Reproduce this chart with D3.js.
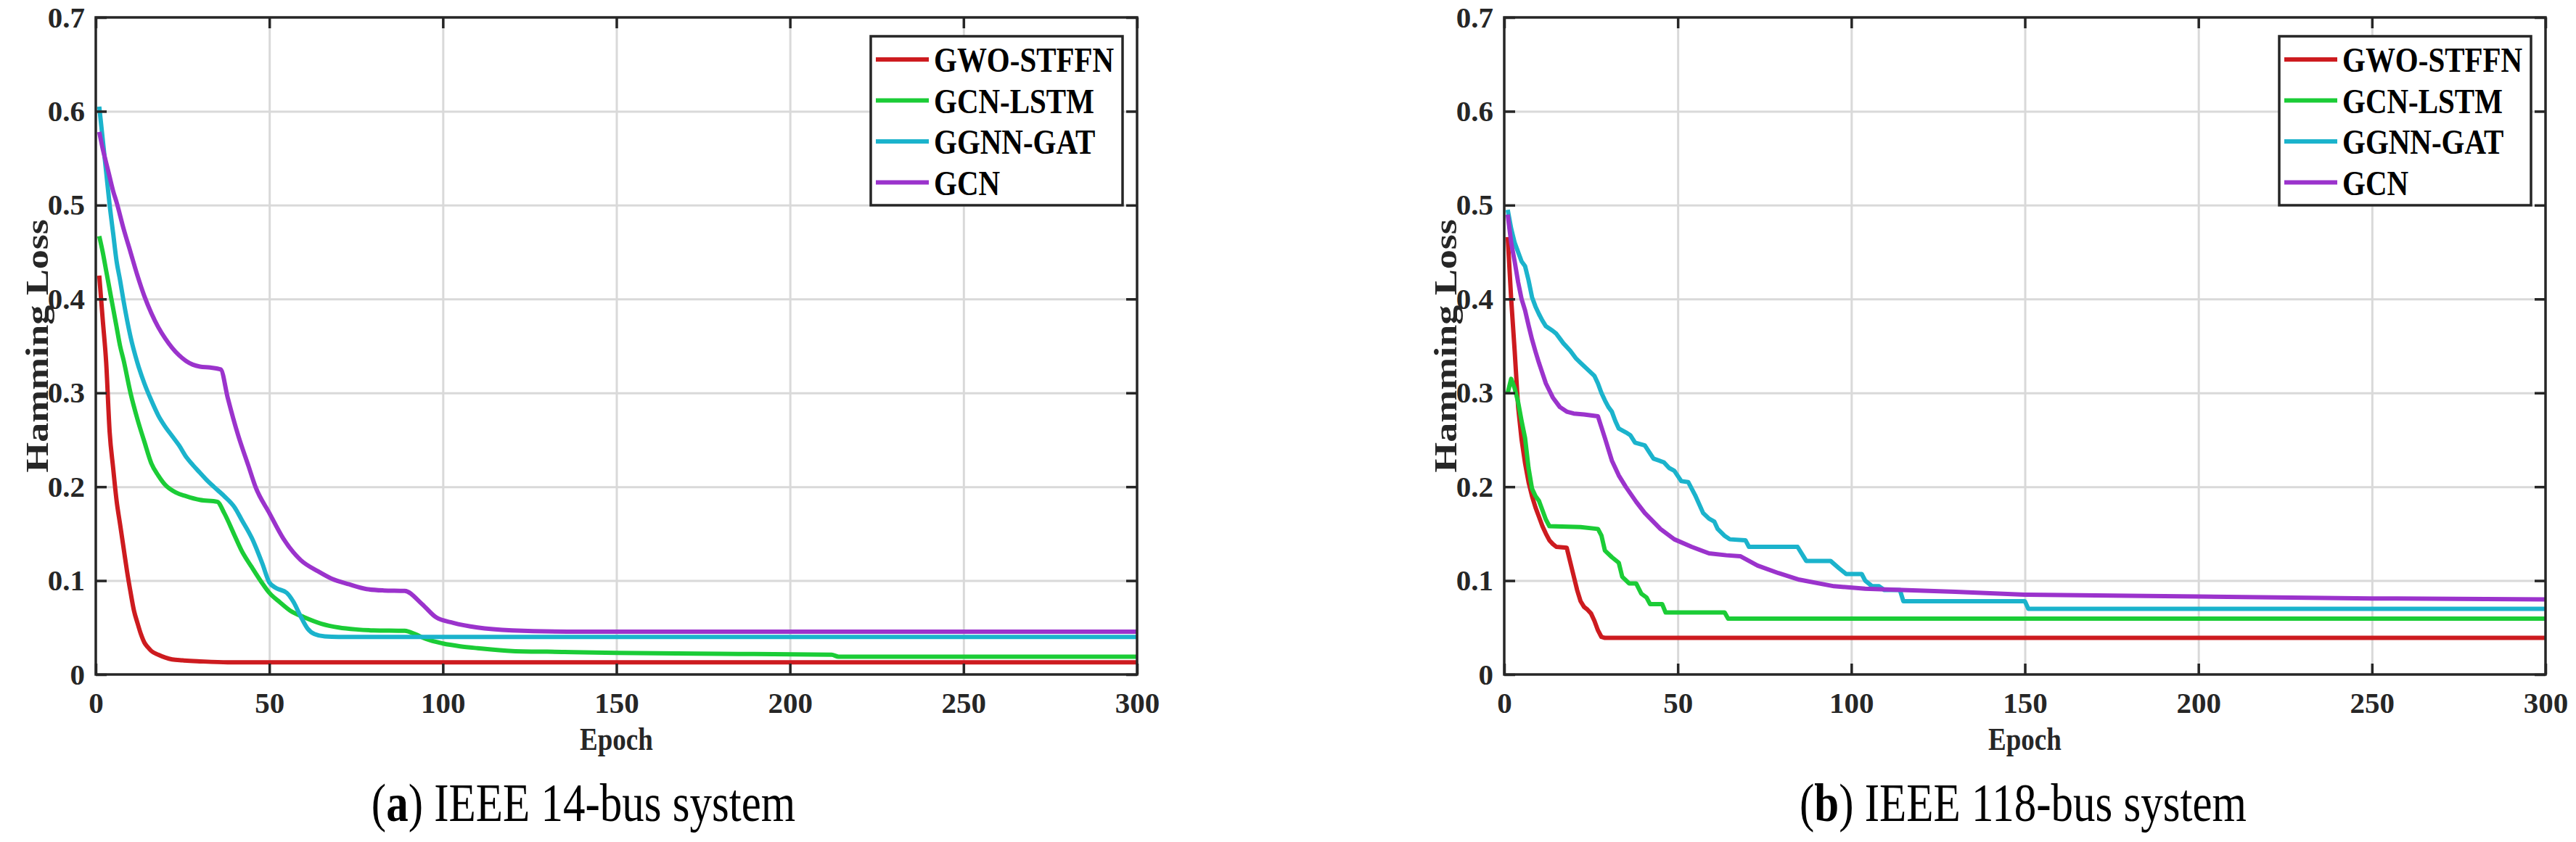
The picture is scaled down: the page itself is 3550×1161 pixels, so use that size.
<!DOCTYPE html>
<html>
<head>
<meta charset="utf-8">
<script src="https://cdn.jsdelivr.net/npm/d3@7"></script>
<style>
  body { margin: 0; background: #fff; }
  text { font-family: "Liberation Serif", "Times New Roman", serif; }
</style>
</head>
<body>
<div id="chart"></div>
<script>
// ---- data: [epoch, hamming loss] ----
var seriesNames = ["GWO-STFFN", "GCN-LSTM", "GGNN-GAT", "GCN"];
var seriesColors = ["#cd1b1f", "#1bcc36", "#1bb3cc", "#9b33cc"];
var xTicks = [0, 50, 100, 150, 200, 250, 300];
var yTicks = [0, 0.1, 0.2, 0.3, 0.4, 0.5, 0.6, 0.7];

// (a) IEEE 14-bus
var gwo14 = [[1,0.425],[2,0.378],[3,0.332],[4,0.258],[5,0.22],[6,0.185],[7,0.16],[8,0.135],[9,0.11],[10,0.088],
  [11,0.068],[12,0.055],[13,0.043],[14,0.034],[15,0.029],[16,0.025],[18,0.021],[20,0.018],[22,0.016],[25,0.015],
  [30,0.014],[38,0.013],[300,0.013]];
var lstm14 = [[1,0.467],[2,0.45],[3,0.43],[4,0.41],[5,0.39],[6,0.37],[7,0.35],[8,0.335],[10,0.30],[12,0.272],
  [14,0.248],[16,0.225],[18,0.212],[20,0.202],[23,0.194],[26,0.19],[30,0.186],[35,0.184],[37,0.172],[40,0.148],
  [42,0.132],[45,0.114],[48,0.097],[50,0.087],[53,0.077],[56,0.068],[60,0.061],[65,0.054],[70,0.05],[75,0.048],
  [80,0.047],[89,0.0465],[92,0.043],[95,0.038],[100,0.033],[105,0.03],[110,0.028],[120,0.025],[135,0.024],
  [150,0.023],[180,0.022],[212,0.021],[214,0.019],[300,0.019]];
var gat14 = [[1,0.605],[2,0.57],[3,0.535],[4,0.5],[5,0.47],[6,0.44],[7,0.42],[8,0.398],[10,0.36],[12,0.332],
  [14,0.31],[16,0.292],[18,0.276],[20,0.264],[22,0.254],[24,0.244],[26,0.232],[28,0.223],[30,0.215],[32,0.207],
  [34,0.2],[37,0.19],[40,0.178],[42,0.165],[45,0.145],[48,0.118],[50,0.098],[52,0.092],[55,0.087],[57,0.077],
  [59,0.062],[61,0.049],[63,0.043],[66,0.0405],[70,0.040],[300,0.040]];
var gcn14 = [[1,0.578],[2,0.56],[3,0.545],[4,0.53],[5,0.515],[6,0.503],[8,0.475],[10,0.45],[12,0.425],[14,0.403],
  [16,0.385],[18,0.37],[20,0.358],[22,0.348],[24,0.34],[26,0.334],[28,0.33],[30,0.328],[33,0.327],[36,0.325],
  [38,0.295],[41,0.255],[44,0.222],[46,0.2],[50,0.172],[54,0.145],[59,0.122],[64,0.11],[68,0.102],[73,0.096],
  [78,0.091],[83,0.0895],[89,0.089],[94,0.075],[98,0.061],[103,0.055],[110,0.05],[120,0.047],[140,0.0455],[300,0.0455]];

// (b) IEEE 118-bus
var gwo118 = [[1,0.466],[2,0.40],[3,0.345],[4,0.285],[5,0.25],[6,0.225],[7,0.205],[8,0.19],[9,0.178],[10,0.168],
  [11,0.158],[12,0.15],[13,0.143],[14,0.139],[15,0.136],[18,0.135],[19,0.12],[20,0.105],[21,0.09],[22,0.078],
  [23,0.072],[24,0.069],[25,0.065],[26,0.057],[27,0.047],[28,0.04],[29,0.039],[300,0.039]];
var lstm118 = [[1,0.30],[2,0.315],[3,0.305],[4,0.29],[5,0.27],[6,0.252],[7,0.22],[8,0.198],[9,0.19],[10,0.185],
  [11,0.175],[12,0.165],[13,0.158],[22,0.157],[27,0.155],[28,0.148],[29,0.132],[31,0.125],[33,0.119],[34,0.104],
  [36,0.097],[38,0.097],[39.5,0.086],[41,0.082],[42,0.075],[45.5,0.075],[46.5,0.066],[63.5,0.066],[64.5,0.0595],
  [300,0.0595]];
var gat118 = [[1,0.495],[2,0.475],[3,0.46],[4,0.45],[5,0.44],[6,0.435],[7,0.42],[8,0.402],[9,0.392],[10,0.384],
  [11,0.377],[12,0.371],[14,0.366],[15,0.363],[16,0.358],[17,0.353],[19,0.345],[20.6,0.337],[22,0.332],[24,0.325],
  [26,0.318],[27,0.31],[28,0.3],[29,0.292],[30,0.285],[31,0.28],[32,0.27],[33,0.262],[35,0.258],[36.3,0.255],
  [37.7,0.247],[40.5,0.244],[43,0.23],[46,0.226],[47.5,0.22],[49,0.217],[51,0.206],[53,0.205],[55,0.191],
  [57.3,0.172],[59,0.166],[60.5,0.163],[61.5,0.155],[63.4,0.148],[65,0.144],[69.5,0.143],[70.5,0.136],[84.5,0.136],
  [86,0.127],[87,0.121],[94,0.121],[96.5,0.113],[98.5,0.107],[103,0.107],[104,0.1],[106,0.094],[108,0.094],
  [109.5,0.09],[114,0.09],[115,0.078],[150,0.078],[151,0.07],[300,0.07]];
var gcn118 = [[1,0.49],[2,0.46],[3,0.44],[4,0.418],[5,0.4],[6,0.388],[7,0.372],[8,0.357],[9,0.344],[10,0.332],
  [12,0.31],[14,0.295],[16,0.285],[18,0.28],[20,0.278],[23,0.277],[27,0.275],[29,0.252],[31,0.228],[33,0.212],
  [35,0.2],[38,0.184],[40.5,0.172],[45,0.155],[49,0.144],[54,0.136],[59,0.129],[64,0.127],[68,0.126],[73,0.116],
  [79,0.108],[85,0.101],[95,0.094],[104,0.0914],[110,0.0905],[130,0.088],[150,0.085],[200,0.083],[250,0.081],
  [300,0.080]];

var svgWidth = 3550;
var svgHeight = 1161;
var axisColor = "#262626";
var textStretch = 1.2;   // legend, titles and captions are drawn tall and narrow

var svg = d3.select("#chart")
  .append("svg")
  .attr("width", svgWidth)
  .attr("height", svgHeight);

// stretch a text vertically around its own anchor point
function stretch(sel) {
  sel.attr("transform", function() {
    var tx = +this.getAttribute("x") || 0, ty = +this.getAttribute("y") || 0;
    return `translate(${tx}, ${ty}) scale(1, ${textStretch}) translate(${-tx}, ${-ty})`;
  });
}

function drawPanel(opts) {
  var left = opts.left, right = opts.right, top = 24, bottom = 930;
  var w = right - left, h = bottom - top;

  var x = d3.scaleLinear().domain([0, 300]).range([0, w]);
  var y = d3.scaleLinear().domain([0, 0.7]).range([h, 0]);

  var g = svg.append("g").attr("transform", `translate(${left}, ${top})`);

  // grid
  g.append("g")
    .attr("transform", `translate(0, ${h})`)
    .call(d3.axisBottom(x).tickValues(xTicks.slice(1, -1)).tickSize(-h).tickFormat(""))
    .call(s => s.select(".domain").remove())
    .selectAll("line").attr("stroke", "#d9d9d9").attr("stroke-width", 3);
  g.append("g")
    .call(d3.axisLeft(y).tickValues(yTicks.slice(1, -1)).tickSize(-w).tickFormat(""))
    .call(s => s.select(".domain").remove())
    .selectAll("line").attr("stroke", "#d9d9d9").attr("stroke-width", 3);

  // clip
  g.append("clipPath").attr("id", opts.id + "-clip")
    .append("rect").attr("width", w).attr("height", h);

  var line = d3.line()
    .x(d => x(d[0]))
    .y(d => y(d[1]))
    .curve(opts.curve);

  g.append("g").attr("clip-path", `url(#${opts.id}-clip)`)
    .selectAll("path")
    .data(opts.series)
    .enter()
    .append("path")
    .attr("d", d => line(d))
    .attr("fill", "none")
    .attr("stroke", (d, i) => seriesColors[i])
    .attr("stroke-width", 6)
    .attr("stroke-linejoin", "round");

  // axes, ticks pointing inward
  var fmt = d => d === 0 ? "0" : d.toFixed(1);
  var xAxis = g.append("g")
    .attr("transform", `translate(0, ${h})`)
    .call(d3.axisBottom(x).tickValues(xTicks).tickSizeInner(-15).tickSizeOuter(0).tickPadding(24));
  var yAxis = g.append("g")
    .call(d3.axisLeft(y).tickValues(yTicks).tickSizeInner(-15).tickSizeOuter(0).tickPadding(15).tickFormat(fmt));
  var xTop = g.append("g")
    .call(d3.axisTop(x).tickValues(xTicks).tickSizeInner(-15).tickSizeOuter(0).tickFormat(""));
  var yRight = g.append("g")
    .attr("transform", `translate(${w}, 0)`)
    .call(d3.axisRight(y).tickValues(yTicks).tickSizeInner(-15).tickSizeOuter(0).tickFormat(""));

  [xAxis, yAxis, xTop, yRight].forEach(function(a) {
    a.select(".domain").remove();
    a.selectAll("line").attr("stroke", axisColor).attr("stroke-width", 3.5);
    a.selectAll("text")
      .attr("fill", axisColor)
      .attr("font-size", "41px")
      .attr("font-weight", "bold")
      .style("font-family", "'Liberation Serif', 'Times New Roman', serif");
  });

  g.append("rect")
    .attr("width", w).attr("height", h)
    .attr("fill", "none")
    .attr("stroke", axisColor)
    .attr("stroke-width", 3.5);

  // axis titles
  g.append("text")
    .attr("transform", `translate(-82, ${h / 2}) scale(1, ${textStretch}) rotate(-90)`)
    .attr("text-anchor", "middle")
    .attr("dy", "0.35em")
    .attr("font-size", "45px")
    .attr("font-weight", "bold")
    .attr("fill", axisColor)
    .text("Hamming Loss");

  g.append("text")
    .attr("x", w / 2)
    .attr("y", 1034 - top)
    .attr("text-anchor", "middle")
    .attr("font-size", "37px")
    .attr("font-weight", "bold")
    .attr("fill", axisColor)
    .text("Epoch")
    .call(stretch);

  // legend
  var lg = g.append("g").attr("transform", `translate(${w - 367}, ${50 - top})`);
  lg.append("rect")
    .attr("width", 347).attr("height", 233)
    .attr("fill", "#fff")
    .attr("stroke", axisColor)
    .attr("stroke-width", 3.5);
  var rows = lg.selectAll("g.row")
    .data(seriesNames)
    .enter()
    .append("g")
    .attr("class", "row")
    .attr("transform", (d, i) => `translate(0, ${32 + i * 56.5})`);
  rows.append("line")
    .attr("x1", 7).attr("x2", 80)
    .attr("stroke", (d, i) => seriesColors[i])
    .attr("stroke-width", 6);
  rows.append("text")
    .attr("x", 87)
    .attr("y", 0)
    .attr("dy", "0.35em")
    .attr("font-size", "41px")
    .attr("font-weight", "bold")
    .attr("fill", "#000")
    .text(d => d)
    .call(stretch);

  // caption
  var cap = svg.append("text")
    .attr("x", opts.captionX)
    .attr("y", 1132)
    .attr("text-anchor", "middle")
    .attr("font-size", "61px")
    .attr("fill", "#000");
  cap.append("tspan").text("(");
  cap.append("tspan").attr("font-weight", "bold").text(opts.letter);
  cap.append("tspan").text(") " + opts.caption);
  cap.call(stretch);
}

drawPanel({
  id: "a", left: 132, right: 1567, letter: "a", caption: "IEEE 14-bus system",
  captionX: 804, curve: d3.curveMonotoneX,
  series: [gwo14, lstm14, gat14, gcn14]
});
drawPanel({
  id: "b", left: 2073, right: 3508, letter: "b", caption: "IEEE 118-bus system",
  captionX: 2788, curve: d3.curveLinear,
  series: [gwo118, lstm118, gat118, gcn118]
});
</script>
</body>
</html>
